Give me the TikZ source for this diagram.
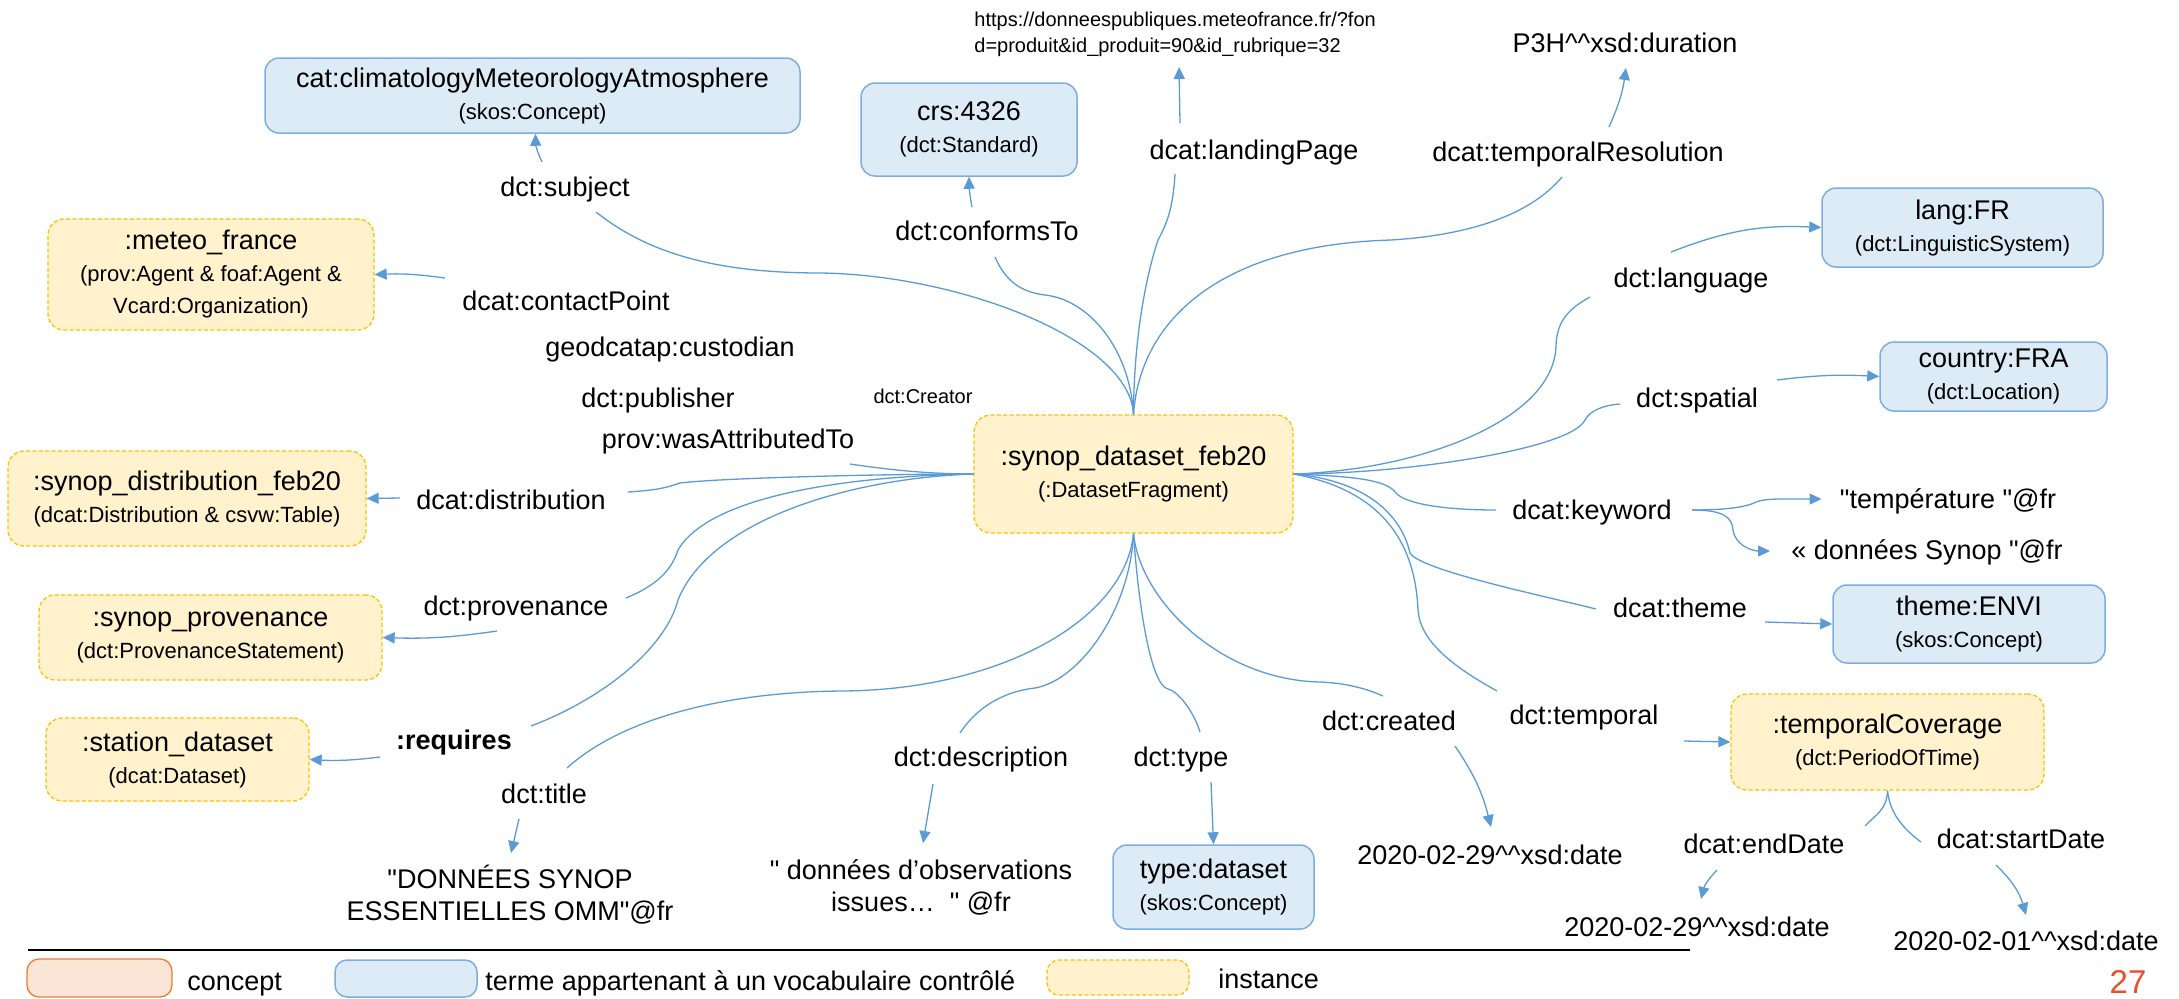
\documentclass[tikz,border=0pt]{standalone}
\usepackage{fontspec}
\setmainfont{Liberation Sans}
\usetikzlibrary{arrows.meta,fit}

\definecolor{linkblue}{HTML}{5B9BD5}
\definecolor{vocabfill}{HTML}{DDEBF7}
\definecolor{vocabline}{HTML}{7EAEDF}
\definecolor{instfill}{HTML}{FFF2CC}
\definecolor{instline}{HTML}{FFC000}
\definecolor{conceptfill}{HTML}{FBE5D6}
\definecolor{conceptline}{HTML}{ED7D31}
\definecolor{pagered}{RGB}{232,80,40}

\newcommand\fmain{\fontsize{13.5}{16}\selectfont}
\newcommand\fsub{\fontsize{11}{16}\selectfont}
\newcommand\fsmall{\fontsize{10}{13}\selectfont}
\newcommand\dq{\textquotedbl}

\tikzset{
  conn/.style={draw=linkblue, line width=0.65pt},
  connarr/.style={conn, -{Triangle[length=6pt,width=5.5pt]}},
  vocab/.style={draw=vocabline, fill=vocabfill, line width=0.75pt,
    rounded corners=7pt, inner sep=0pt, align=center, font=\fsub},
  inst/.style={draw=instline, fill=instfill, line width=0.65pt,
    dash pattern=on 2pt off 1.2pt, rounded corners=8pt, inner sep=0pt,
    align=center, font=\fsub},
  conceptbox/.style={draw=conceptline, fill=conceptfill, line width=0.65pt,
    rounded corners=6pt, inner sep=0pt},
  size/.style 2 args={minimum width=#1, minimum height=#2},
  prop/.style={inner sep=0pt, font=\fmain, text height=9.7pt, text depth=2.7pt},
  lit/.style={inner sep=0pt, font=\fmain, align=center},
}

\begin{document}
\begin{tikzpicture}[x=0.5pt,y=-0.5pt]
\useasboundingbox (0,0) rectangle (2179,998);

% ---------- resources (boxes) ----------
\node[vocab, size={267.5pt}{37.5pt}] (cat) at (532.5,95.5)
  {{\fmain cat:climatologyMeteorologyAtmosphere}\\(skos:Concept)};
\node[vocab, size={108pt}{46.5pt}] (crs) at (969,129.5)
  {{\fmain crs:4326}\\(dct:Standard)};
\node[inst, size={163pt}{55.5pt}] (meteo) at (211,274.5)
  {{\fmain :meteo\_france}\\(prov:Agent \& foaf:Agent \&\\Vcard:Organization)};
\node[inst, size={179pt}{47.5pt}] (distb) at (187,498.5)
  {{\fmain :synop\_distribution\_feb20}\\(dcat:Distribution \& csvw:Table)};
\node[inst, size={171.5pt}{42.5pt}] (provb) at (210.5,637.5)
  {{\fmain :synop\_provenance}\\(dct:ProvenanceStatement)};
\node[inst, size={131.5pt}{41.5pt}] (stat) at (177.5,759.5)
  {{\fmain :station\_dataset}\\(dcat:Dataset)};
\node[inst, size={159.5pt}{59pt}, rounded corners=8.5pt] (ds) at (1133.5,474)
  {{\fmain :synop\_dataset\_feb20}\\(:DatasetFragment)};
\node[vocab, size={140.5pt}{39.5pt}] (langb) at (1962.5,227.5)
  {{\fmain lang:FR}\\(dct:LinguisticSystem)};
\node[vocab, size={113.5pt}{34.5pt}] (ctry) at (1993.5,376.5)
  {{\fmain country:FRA}\\(dct:Location)};
\node[vocab, size={136pt}{39pt}] (themeb) at (1969,624)
  {{\fmain theme:ENVI}\\(skos:Concept)};
\node[inst, size={156.5pt}{48pt}] (tc) at (1887.5,742)
  {{\fmain :temporalCoverage}\\(dct:PeriodOfTime)};
\node[vocab, size={100.5pt}{42pt}] (typeb) at (1213.5,887)
  {{\fmain type:dataset}\\(skos:Concept)};

% ---------- literal values ----------
\node[font=\fsmall, inner sep=0pt, align=left, anchor=west] (url) at (974,34)
  {https://donneespubliques.meteofrance.fr/?fon\\d=produit\&id\_produit=90\&id\_rubrique=32};
\node[lit] (p3h) at (1625,43) {P3H\textasciicircum\textasciicircum xsd:duration};
\node[lit] (temp) at (1948,501) {\dq température \dq@fr};
\node[lit] (donn) at (1927,552) {« données Synop \dq@fr};
\node[lit] (titlt) at (510,895) {\dq DONNÉES SYNOP\\ESSENTIELLES OMM\dq@fr};
\node[lit] (desct) at (921,887) {\dq\ données d’observations\\issues…\ \ \dq\ @fr};
\node[lit] (crtd) at (1490,855) {2020-02-29\textasciicircum\textasciicircum xsd:date};
\node[lit] (edd) at (1697,927) {2020-02-29\textasciicircum\textasciicircum xsd:date};
\node[lit] (sdd) at (2026,941) {2020-02-01\textasciicircum\textasciicircum xsd:date};

% ---------- property labels ----------
\node[prop] (subj) at (565,189) {dct:subject};
\node[prop] (conf) at (987,233) {dct:conformsTo};
\node[prop] (land) at (1254,152) {dcat:landingPage};
\node[prop] (tres) at (1578,154) {dcat:temporalResolution};
\node[prop] (lang) at (1691,280) {dct:language};
\node[prop] (spat) at (1697,400) {dct:spatial};
\node[prop] (kw) at (1592,512) {dcat:keyword};
\node[prop] (thm) at (1680,610) {dcat:theme};
\node[prop] (tmp) at (1584,717) {dct:temporal};
\node[prop] (crt) at (1389,723) {dct:created};
\node[prop] (typ) at (1181,759) {dct:type};
\node[prop] (desc) at (981,759) {dct:description};
\node[prop] (titl) at (544,796) {dct:title};
\node[prop, font={\fmain\bfseries}] (req) at (454,742) {:requires};
\node[prop] (prov) at (516,608) {dct:provenance};
\node[prop] (dist) at (511,502) {dcat:distribution};
\node[prop] (cp) at (566,303) {dcat:contactPoint};
\node[prop] (cust) at (670,349) {geodcatap:custodian};
\node[prop] (pub) at (658,400) {dct:publisher};
\node[inner sep=0pt, font=\fsmall] (crea) at (923,396) {dct:Creator};
\node[prop] (watt) at (728,441) {prov:wasAttributedTo};
\node[prop] (sdl) at (2021,841) {dcat:startDate};
\node[prop] (edl) at (1764,846) {dcat:endDate};

% ---------- curves leaving the dataset ----------
% upward
\draw[conn] (ds.north) .. controls (1130,340) and (960,275) .. (821,273)
  .. controls (720,273) and (650,255) .. ([shift={(31,23)}]subj.center);
\draw[conn] (ds.north) .. controls (1130,350) and (1090,300) .. (1045,295)
  .. controls (1020,292) and (1005,280) .. ([shift={(8,24)}]conf.center);
\draw[conn] (ds.north) .. controls (1134,330) and (1148,270) .. (1158,240)
  .. controls (1166,225) and (1173,210) .. ([shift={(-79,22)}]land.center);
\draw[conn] (ds.north) .. controls (1140,320) and (1220,245) .. (1391,240)
  .. controls (1470,235) and (1530,215) .. ([shift={(-16,23)}]tres.center);
% rightward
\draw[conn] (ds.east) .. controls (1420,470) and (1555,420) .. (1556,345)
  .. controls (1557,320) and (1570,308) .. ([shift={(-101,17)}]lang.center);
\draw[conn] (ds.east) .. controls (1400,474) and (1570,450) .. (1585,420)
  .. controls (1590,410) and (1605,405) .. ([shift={(-77,4)}]spat.center);
\draw[conn] (ds.east) .. controls (1340,476) and (1385,478) .. (1395,492)
  .. controls (1405,505) and (1450,510) .. ([shift={(-96,-2)}]kw.center);
\draw[conn] (ds.east) .. controls (1360,480) and (1400,510) .. (1410,553)
  .. controls (1420,570) and (1540,595) .. ([shift={(-84,-1)}]thm.center);
\draw[conn] (ds.east) .. controls (1380,490) and (1415,540) .. (1418,610)
  .. controls (1420,640) and (1450,665) .. ([shift={(-87,-26)}]tmp.center);
% downward
\draw[conn] (ds.south) .. controls (1140,600) and (1220,680) .. (1320,682)
  .. controls (1345,683) and (1365,688) .. ([shift={(-6,-27)}]crt.center);
\draw[conn] (ds.south) .. controls (1138,600) and (1150,685) .. (1168,689)
  .. controls (1180,692) and (1195,715) .. ([shift={(19,-27)}]typ.center);
\draw[conn] (ds.south) .. controls (1130,610) and (1080,680) .. (1035,688)
  .. controls (1000,692) and (975,710) .. ([shift={(-21,-26)}]desc.center);
\draw[conn] (ds.south) .. controls (1125,620) and (1000,690) .. (842,691)
  .. controls (720,692) and (620,720) .. ([shift={(23,-28)}]titl.center);
% leftward
\draw[conn] (ds.west) .. controls (930,474) and (890,470) .. ([shift={(122,23)}]watt.center);
\draw[conn] (ds.west) .. controls (880,474) and (720,478) .. (680,483)
  .. controls (668,487) and (660,490) .. ([shift={(117,-10)}]dist.center);
\draw[conn] (ds.west) .. controls (850,476) and (710,495) .. (678,550)
  .. controls (670,575) and (650,588) .. ([shift={(110,-10)}]prov.center);
\draw[conn] (ds.west) .. controls (850,478) and (710,520) .. (678,600)
  .. controls (665,650) and (600,700) .. ([shift={(77,-16)}]req.center);
% from the temporal coverage
\draw[conn] (tc.south) .. controls (1887,810) and (1875,815) .. ([shift={(101,-20)}]edl.center);
\draw[conn] (tc.south) .. controls (1890,815) and (1905,830) .. ([shift={(-100,1)}]sdl.center);

% ---------- arrows to the objects ----------
\draw[connarr] ([shift={(-23,-27)}]subj.center) to[bend left=12] ([shift={(3,0)}]cat.south);
\draw[connarr] ([shift={(-15,-26)}]conf.center) to[bend left=5] (crs.south);
\draw[connarr] ([shift={(-74,-29)}]land.center) -- ([shift={(4,33)}]url.center);
\draw[connarr] ([shift={(31,-27)}]tres.center) to[bend right=8] ([shift={(1,25)}]p3h.center);
\draw[connarr] ([shift={(-20,-28)}]lang.center) to[bend left=12] (langb.west);
\draw[connarr] ([shift={(80,-20)}]spat.center) to[bend left=5] (ctry.west);
\draw[connarr] ([shift={(100,-2)}]kw.center) .. controls (1720,510) and (1745,508) .. (1756,502)
  .. controls (1765,498) and (1790,499) .. ([shift={(-18,-2)}]temp.west);
\draw[connarr] ([shift={(100,-2)}]kw.center) .. controls (1725,510) and (1732,518) .. (1733,530)
  .. controls (1735,545) and (1752,551) .. ([shift={(-21,-1)}]donn.west);
\draw[connarr] ([shift={(85,12)}]thm.center) -- (themeb.west);
\draw[connarr] ([shift={(100,24)}]tmp.center) -- (tc.west);
\draw[connarr] ([shift={(66,23)}]crt.center) to[bend left=10] ([shift={(1,-28)}]crtd.center);
\draw[connarr] ([shift={(30,23)}]typ.center) -- (typeb.north);
\draw[connarr] ([shift={(-48,25)}]desc.center) -- ([shift={(2,-44)}]desct.center);
\draw[connarr] ([shift={(-25,23)}]titl.center) -- ([shift={(1,-42)}]titlt.center);
\draw[connarr] ([shift={(-74,15)}]req.center) to[bend left=5] (stat.east);
\draw[connarr] ([shift={(-19,23)}]prov.center) to[bend left=5] (provb.east);
\draw[connarr] ([shift={(-111,-4)}]dist.center) -- (distb.east);
\draw[connarr] ([shift={(-121,-25)}]cp.center) to[bend right=5] (meteo.east);
\draw[connarr] ([shift={(-47,24)}]edl.center) to[bend right=15] ([shift={(4,-28)}]edd.center);
\draw[connarr] ([shift={(-25,24)}]sdl.center) to[bend left=15] ([shift={(0,-26)}]sdd.center);

% ---------- legend ----------
\coordinate (lgA) at (28,950);
\coordinate (lgB) at (1690,950);
\draw[line width=0.6pt] (lgA) -- (lgB);
\node[conceptbox, fit={(27,959)(172,997)}] (lgc) {};
\node[prop, anchor=west] (lgct) at (187,983) {concept};
\node[vocab, rounded corners=6pt, fit={(335,960)(477,997)}] (lgv) {};
\node[prop, anchor=west] (lgvt) at (485,983) {terme appartenant à un vocabulaire contrôlé};
\node[inst, rounded corners=6pt, fit={(1047,960)(1189,995)}] (lgi) {};
\node[prop, anchor=west] (lgit) at (1218,981) {instance};

% page number
\node[inner sep=0pt, anchor=base, text=pagered, font=\fontsize{16.5}{18}\selectfont] (pg) at (2128,993) {27};
\end{tikzpicture}
\end{document}
